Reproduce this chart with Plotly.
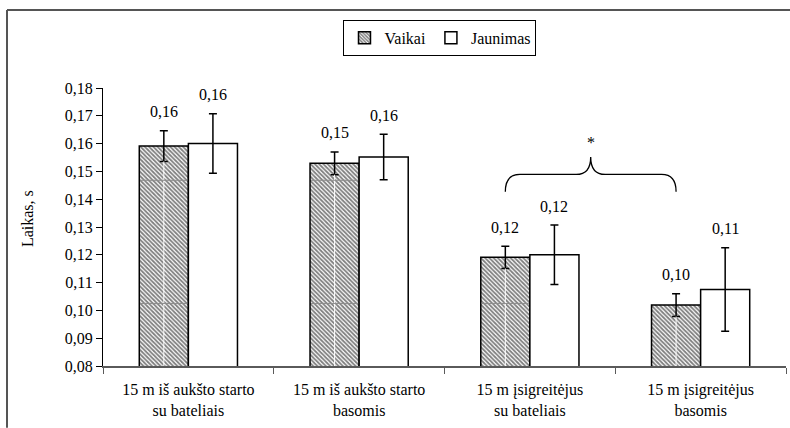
import plotly.graph_objects as go

# Sprint time by test condition, two age groups (mean ± SD)
categories = [
    "15 m iš aukšto starto<br>su bateliais",
    "15 m iš aukšto starto<br>basomis",
    "15 m įsigreitėjus<br>su bateliais",
    "15 m įsigreitėjus<br>basomis",
]
vaikai = [0.1591, 0.1529, 0.1191, 0.1019]
vaikai_sd = [0.0055, 0.0041, 0.0040, 0.0041]
jaunimas = [0.1600, 0.1552, 0.1200, 0.1075]
jaunimas_sd = [0.0107, 0.0082, 0.0107, 0.0150]
y_ticks = [0.08, 0.09, 0.10, 0.11, 0.12, 0.13, 0.14, 0.15, 0.16, 0.17, 0.18]

# Significant difference marker between Vaikai in categories 3 and 4
sig_pair = (2, 3)
sig_label = "*"

FONT = "Liberation Serif"
BARGAP = 0.425
half = (1 - BARGAP) / 4  # offset of each bar centre from the category centre

fig = go.Figure()
fig.add_trace(go.Bar(
    name="Vaikai", x=categories, y=vaikai,
    marker=dict(color="white",
                line=dict(color="black", width=1.5),
                pattern=dict(shape="\\", fgcolor="#000000", bgcolor="#ffffff",
                             size=3, solidity=0.6)),
    error_y=dict(type="data", array=vaikai_sd, color="black", thickness=1.5, width=4),
))
fig.add_trace(go.Bar(
    name="Jaunimas", x=categories, y=jaunimas,
    marker=dict(color="white", line=dict(color="black", width=1.5)),
    error_y=dict(type="data", array=jaunimas_sd, color="black", thickness=1.5, width=4),
))

annotations = []
shapes = []


def fmt(v):
    return f"{v:.2f}".replace(".", ",")


for i in range(len(categories)):
    for vals, sds, sign in ((vaikai, vaikai_sd, -1), (jaunimas, jaunimas_sd, 1)):
        annotations.append(dict(
            x=i + sign * half, y=vals[i] + sds[i], xref="x", yref="y",
            text=fmt(vals[i]), showarrow=False, yanchor="middle", yshift=19,
            font=dict(family=FONT, size=16, color="black"),
        ))
    # thin white seam below the Vaikai error bar
    shapes.append(dict(type="line", xref="x", yref="y",
                       x0=i - half, x1=i - half, y0=0.08, y1=vaikai[i] - vaikai_sd[i],
                       line=dict(color="white", width=1), layer="above"))
    # faint horizontal seams across the hatched bars
    for yl in (0.1025, 0.1468):
        if vaikai[i] > yl:
            shapes.append(dict(type="line", xref="x", yref="y",
                               x0=i - 2 * half + 0.006, x1=i - 0.006, y0=yl, y1=yl,
                               line=dict(color="#8c8c8c", width=1), layer="above"))

# curly brace over the compared bars
xl = sig_pair[0] - half
xr = sig_pair[1] - half
xm = (xl + xr) / 2
yb, yh, yp = 0.1427, 0.1489, 0.1552
dx = 0.085
path = (f"M {xl},{yb} Q {xl},{yh} {xl + dx},{yh} L {xm - dx},{yh} "
        f"Q {xm},{yh} {xm},{yp} Q {xm},{yh} {xm + dx},{yh} "
        f"L {xr - dx},{yh} Q {xr},{yh} {xr},{yb}")
shapes.append(dict(type="path", xref="x", yref="y", path=path,
                   line=dict(color="black", width=1.3)))
annotations.append(dict(x=xm, y=0.1605, xref="x", yref="y", text=sig_label,
                        showarrow=False, font=dict(family=FONT, size=16, color="black")))

# y-axis title
annotations.append(dict(x=-0.1113, y=0.532, xref="paper", yref="paper",
                        text="Laikas, s", textangle=-90, showarrow=False,
                        xanchor="center", yanchor="middle",
                        font=dict(family=FONT, size=16, color="black")))

# outer chart frame: left and top edges
x_left = -96 / 683
y_top = 1 + 78 / 278
shapes.append(dict(type="line", xref="paper", yref="paper",
                   x0=x_left, x1=1.006, y0=y_top, y1=y_top,
                   line=dict(color="#555555", width=2)))
shapes.append(dict(type="line", xref="paper", yref="paper",
                   x0=x_left, x1=x_left, y0=-0.222, y1=y_top,
                   line=dict(color="#555555", width=2)))

fig.update_layout(
    width=790, height=428,
    margin=dict(l=103, r=4, t=88, b=62),
    paper_bgcolor="white", plot_bgcolor="white",
    barmode="group", bargap=BARGAP, bargroupgap=0,
    separators=", ",
    font=dict(family=FONT, size=16, color="black"),
    showlegend=True,
    legend=dict(orientation="h", x=0.4934, xanchor="center", y=1.245, yanchor="top",
                bordercolor="black", borderwidth=1, itemwidth=30,
                font=dict(family=FONT, size=16, color="black"),
                bgcolor="white", tracegroupgap=0),
    annotations=annotations,
    shapes=shapes,
)
fig.update_xaxes(
    showline=True, linecolor="#5a5a5a", linewidth=1.5,
    ticks="outside", tickson="boundaries", ticklen=6, tickcolor="#5a5a5a",
    ticklabelstandoff=8,
    showgrid=False, tickfont=dict(family=FONT, size=16, color="black"),
)
fig.update_yaxes(
    range=[0.08, 0.18], tickvals=y_ticks, tickformat=".2f",
    showline=True, linecolor="black", linewidth=1.2,
    ticks="outside", ticklen=6, tickcolor="black",
    showgrid=False, zeroline=False,
    tickfont=dict(family=FONT, size=16, color="black"),
)

fig.write_html("out.html")
